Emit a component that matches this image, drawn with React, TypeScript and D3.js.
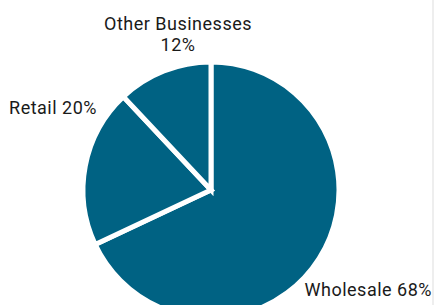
import * as d3 from 'd3';

const categories = ['Wholesale', 'Retail', 'Other Businesses'];
const shares = [68, 20, 12];
// label lines per slice
const labelLines = [['Wholesale 68%'], ['Retail 20%'], ['Other Businesses', '12%']];

const width = 434;
const height = 305;
const cx = 211;
const cy = 190;
const radius = 128;

// where each label sits, relative to the pie centre
const labelPos = [
  { x: 221, y: 106, anchor: 'end' },
  { x: -114, y: -76, anchor: 'end' },
  { x: -33, y: -160, anchor: 'middle' },
];

export default function App() {
  const pie = d3
    .pie<number>()
    .sort(null)
    .value((d) => d);
  const arcs = pie(shares);
  const arc = d3.arc<d3.PieArcDatum<number>>().innerRadius(0).outerRadius(radius);

  return (
    <svg
      width={width}
      height={height}
      style={{ position: 'fixed', left: 0, top: 0, background: '#fff' }}
      fontFamily="Roboto, 'DejaVu Sans', sans-serif"
    >
      <g transform={`translate(${cx},${cy})`}>
        {arcs.map((a, i) => (
          <path
            key={categories[i]}
            d={arc(a) ?? ''}
            fill="#006283"
            stroke="#fff"
            strokeWidth={5}
            strokeLinejoin="miter"
          />
        ))}
        {labelPos.map((p, i) => (
          <text
            key={categories[i]}
            x={p.x}
            y={p.y}
            textAnchor={p.anchor}
            fontSize={18}
            letterSpacing={0.5}
            fill="#1a1a1a"
          >
            {labelLines[i].map((line, j) => (
              <tspan key={line} x={p.x} dy={j === 0 ? 0 : 21}>
                {line}
              </tspan>
            ))}
          </text>
        ))}
      </g>
      <line x1={433} x2={433} y1={0} y2={height} stroke="#ddd" strokeWidth={1} />
    </svg>
  );
}
